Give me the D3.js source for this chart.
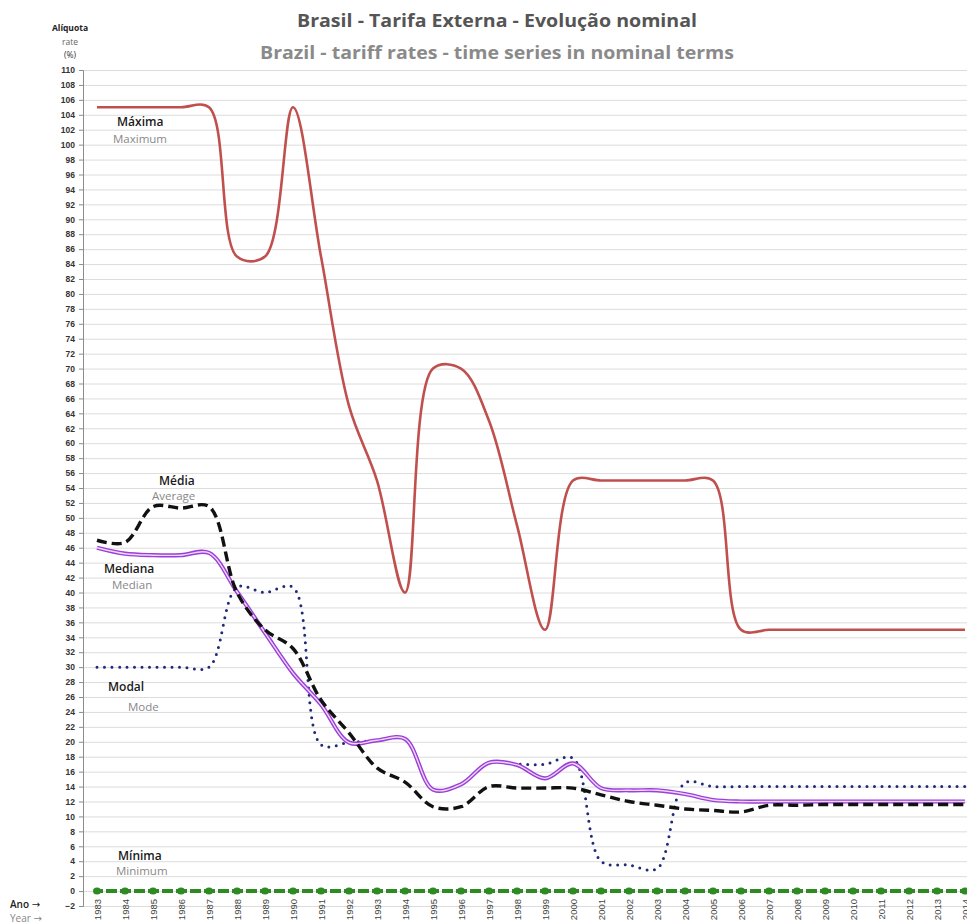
<!DOCTYPE html>
<html>
<head>
<meta charset="utf-8">
<title>Brasil - Tarifa Externa</title>
<script src="https://d3js.org/d3.v7.min.js"></script>
<style>
  body { margin: 0; background: #fff; }
  svg { display: block; font-family: "Open Sans", sans-serif; }
</style>
</head>
<body>
<div id="chart"></div>
<script>
var years = d3.range(1983, 2015);

var maxima  = [105,105,105,105,105,85,85,105,85,65,55,40,70,70,63,49,35,55,55,55,55,55,55,35,35,35,35,35,35,35,35,35];
var media   = [47,46.7,51.5,51.3,51.5,40,35,32.5,25.6,21.2,16.5,14.6,11.3,11.3,14,13.8,13.8,13.8,12.9,12,11.5,11,10.8,10.6,11.5,11.5,11.6,11.6,11.6,11.6,11.6,11.6];
var mediana = [46,45.2,45,45,45.3,40.1,34.6,29.2,25,19.9,20.2,20.4,13.6,14.3,17.2,16.9,15.1,17.1,13.8,13.5,13.5,13,12.2,12,12,12,12,12,12,12,12,12];
var modal   = [30,30,30,30,30,40.7,40,40.7,19.6,19.9,20.2,20.4,13.6,14.3,17.2,17,17,17.8,4,3.5,3,14.5,14,14,14,14,14,14,14,14,14,14];
var minima  = [0,0,0,0,0,0,0,0,0,0,0,0,0,0,0,0,0,0,0,0,0,0,0,0,0,0,0,0,0,0,0,0];

var yTicks = d3.range(-2, 111, 2);

var W = 967, H = 923;
var plotLeft = 83, plotRight = 967, plotTop = 70, plotBottom = 906;

var svg = d3.select("#chart").append("svg")
  .attr("width", W).attr("height", H);

var x = d3.scalePoint().domain(years).range([97, 965]);
var y = d3.scaleLinear().domain([-2, 110]).range([plotBottom, plotTop]);

// grid lines
svg.append("g")
  .attr("transform", "translate(" + plotLeft + ",0)")
  .call(d3.axisLeft(y).tickValues(yTicks).tickSize(-(plotRight - plotLeft)).tickFormat(""))
  .call(function(g) {
    g.select(".domain").remove();
    g.selectAll("line").attr("stroke", "#dcdcdc").attr("stroke-width", 1);
  });

// y axis
svg.append("g")
  .attr("transform", "translate(" + plotLeft + ",0)")
  .call(d3.axisLeft(y).tickValues(yTicks).tickSize(4).tickPadding(4).tickFormat(d3.format("d")))
  .call(function(g) {
    g.select(".domain").attr("stroke", "#8c8c8c");
    g.selectAll("line").attr("stroke", "#8c8c8c");
    g.selectAll("text").attr("fill", "#333").attr("font-size", "8.5px").attr("font-weight", 600);
  });

// x labels
svg.append("g")
  .attr("transform", "translate(0,899)")
  .call(d3.axisBottom(x).tickSize(0).tickFormat(d3.format("d")))
  .call(function(g) {
    g.select(".domain").remove();
    g.selectAll("text")
      .attr("transform", "rotate(-90)")
      .attr("x", 0).attr("y", 0).attr("dy", "0.35em")
      .attr("text-anchor", "end")
      .attr("fill", "#444").attr("font-size", "9.5px").attr("font-weight", 400);
  });

svg.append("clipPath").attr("id", "plot")
  .append("rect").attr("x", plotLeft).attr("y", plotTop - 10)
  .attr("width", plotRight - plotLeft).attr("height", plotBottom - plotTop + 10);

var line = d3.line()
  .x(function(d, i) { return x(years[i]); })
  .y(function(d) { return y(d); })
  .curve(d3.curveCatmullRom.alpha(0.5));

var plot = svg.append("g").attr("clip-path", "url(#plot)");

// minimum (green)
plot.append("path").datum(minima)
  .attr("d", d3.line().x(function(d, i) { return x(years[i]); }).y(function(d) { return y(d); }))
  .attr("fill", "none").attr("stroke", "#2e8b22").attr("stroke-width", 4)
  .attr("stroke-dasharray", "11,3").attr("stroke-dashoffset", 5);
plot.selectAll(".minmark").data(minima).enter().append("ellipse")
  .attr("class", "minmark")
  .attr("cx", function(d, i) { return x(years[i]); })
  .attr("cy", function(d) { return y(d); })
  .attr("rx", 4).attr("ry", 3.5)
  .attr("fill", "#2e8b22");

// maximum
plot.append("path").datum(maxima)
  .attr("d", line)
  .attr("fill", "none").attr("stroke", "#c0504d").attr("stroke-width", 2.6);

// mode
plot.append("path").datum(modal)
  .attr("d", line)
  .attr("fill", "none").attr("stroke", "#1f2a78").attr("stroke-width", 3)
  .attr("stroke-linecap", "round").attr("stroke-dasharray", "0,7.5");

// median (double line)
plot.append("path").datum(mediana)
  .attr("d", line)
  .attr("fill", "none").attr("stroke", "#9a3fd8").attr("stroke-width", 4.2);
plot.append("path").datum(mediana)
  .attr("d", line)
  .attr("fill", "none").attr("stroke", "#efd6f7").attr("stroke-width", 1.4);

// average
plot.append("path").datum(media)
  .attr("d", line)
  .attr("fill", "none").attr("stroke", "#111").attr("stroke-width", 3.4)
  .attr("stroke-dasharray", "10,5");

// series labels
var labels = [
  ["Máxima", 117, 126, "Maximum", 113, 143],
  ["Média", 159, 485, "Average", 152, 500],
  ["Mediana", 104, 573, "Median", 112, 589],
  ["Modal", 108, 691, "Mode", 128, 711],
  ["Mínima", 118, 860, "Minimum", 116, 875]
];
labels.forEach(function(l) {
  svg.append("text").attr("x", l[1]).attr("y", l[2]).text(l[0])
    .attr("fill", "#1a1a1a").attr("font-size", "12px").attr("font-weight", 600);
  svg.append("text").attr("x", l[4]).attr("y", l[5]).text(l[3])
    .attr("fill", "#888").attr("font-size", "11.5px");
});

// axis titles
svg.append("text").attr("x", 70).attr("y", 31).attr("text-anchor", "middle")
  .text("Alíquota").attr("fill", "#222").attr("font-size", "8.5px").attr("font-weight", 700);
svg.append("text").attr("x", 70).attr("y", 45).attr("text-anchor", "middle")
  .text("rate").attr("fill", "#666").attr("font-size", "8.5px");
svg.append("text").attr("x", 70).attr("y", 58).attr("text-anchor", "middle")
  .text("(%)").attr("fill", "#333").attr("font-size", "8.5px");

var ano = svg.append("text").attr("x", 10).attr("y", 908)
  .attr("fill", "#222").attr("font-size", "10px").attr("font-weight", 600);
ano.append("tspan").text("Ano ");
ano.append("tspan").text("→").attr("font-family", "DejaVu Sans").attr("font-weight", 400);
var yr = svg.append("text").attr("x", 10).attr("y", 921.5)
  .attr("fill", "#888").attr("font-size", "10px");
yr.append("tspan").text("Year ");
yr.append("tspan").text("→").attr("font-family", "DejaVu Sans");

// titles
svg.append("text").attr("x", 497).attr("y", 27).attr("text-anchor", "middle")
  .attr("textLength", 400).attr("lengthAdjust", "spacingAndGlyphs")
  .text("Brasil - Tarifa Externa - Evolução nominal")
  .attr("fill", "#555").attr("font-size", "17px").attr("font-weight", 700);
svg.append("text").attr("x", 497).attr("y", 59).attr("text-anchor", "middle")
  .attr("textLength", 474).attr("lengthAdjust", "spacingAndGlyphs")
  .text("Brazil - tariff rates - time series in nominal terms")
  .attr("fill", "#8a8a8a").attr("font-size", "17px").attr("font-weight", 700);
</script>
</body>
</html>
